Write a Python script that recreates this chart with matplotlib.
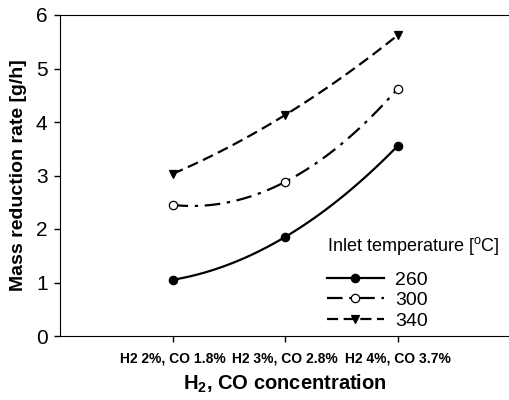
import numpy as np
import matplotlib
matplotlib.use('Agg')
import matplotlib.pyplot as plt

plt.rcParams['font.family'] = ['Liberation Sans', 'DejaVu Sans']
plt.rcParams['mathtext.fontset'] = 'custom'
plt.rcParams['mathtext.rm'] = 'Liberation Sans'
plt.rcParams['mathtext.bf'] = 'Liberation Sans:bold'

categories = ['H2 2%, CO 1.8%', 'H2 3%, CO 2.8%', 'H2 4%, CO 3.7%']
temps = ['260', '300', '340']
rate_260 = [1.05, 1.85, 3.55]
rate_300 = [2.45, 2.88, 4.62]
rate_340 = [3.03, 4.13, 5.62]

fig = plt.figure(figsize=(5.09, 4.0), dpi=100)
ax = fig.add_axes([0.118, 0.16, 0.884, 0.8025])

x = np.arange(1, len(categories) + 1)
xs = np.linspace(x[0], x[-1], 100)

styles = [
    (rate_260, '-', 'o', 'black'),
    (rate_300, (0, (7, 3, 1.5, 3)), 'o', 'white'),
    (rate_340, (0, (5, 2.5)), 'v', 'black'),
]
for (vals, ls, mk, mfc), lab in zip(styles, temps):
    # smooth curve through the three measured points
    coef = np.polyfit(x, vals, 2)
    ax.plot(xs, np.polyval(coef, xs), color='black', linestyle=ls, linewidth=1.6)
    ax.plot(x, vals, linestyle='none', marker=mk, markersize=6,
            markerfacecolor=mfc, markeredgecolor='black', markeredgewidth=0.9)
    ax.plot([], [], color='black', linestyle=ls, linewidth=1.6, marker=mk,
            markersize=6, markerfacecolor=mfc, markeredgecolor='black',
            markeredgewidth=0.9, label=lab)

ax.set_xlim(0, 4)
ax.set_ylim(0, 6)
ax.set_xticks(x)
ax.set_xticklabels(categories, fontsize=10, fontweight='bold')
ax.set_yticks(range(0, 7))
ax.tick_params(axis='y', labelsize=15, direction='out', length=4, width=1, pad=5)
ax.tick_params(axis='x', direction='out', length=4, width=1, pad=7)
ax.spines['right'].set_visible(False)

ax.set_ylabel('Mass reduction rate [g/h]', fontsize=14, fontweight='bold', labelpad=6)
ax.set_xlabel(r'H$_\mathbf{2}$, CO concentration', fontsize=14.5, fontweight='bold', labelpad=5)

leg = ax.legend(loc='lower left', bbox_to_anchor=(0.555, -0.035), frameon=False,
                title=r'Inlet temperature [$^\mathrm{o}$C]', title_fontsize=13,
                fontsize=14, handlelength=2.9, labelspacing=0.15, handletextpad=0.6)
leg._legend_box.align = 'left'
leg._legend_box.sep = 10

fig.savefig('out.png', dpi=100)
